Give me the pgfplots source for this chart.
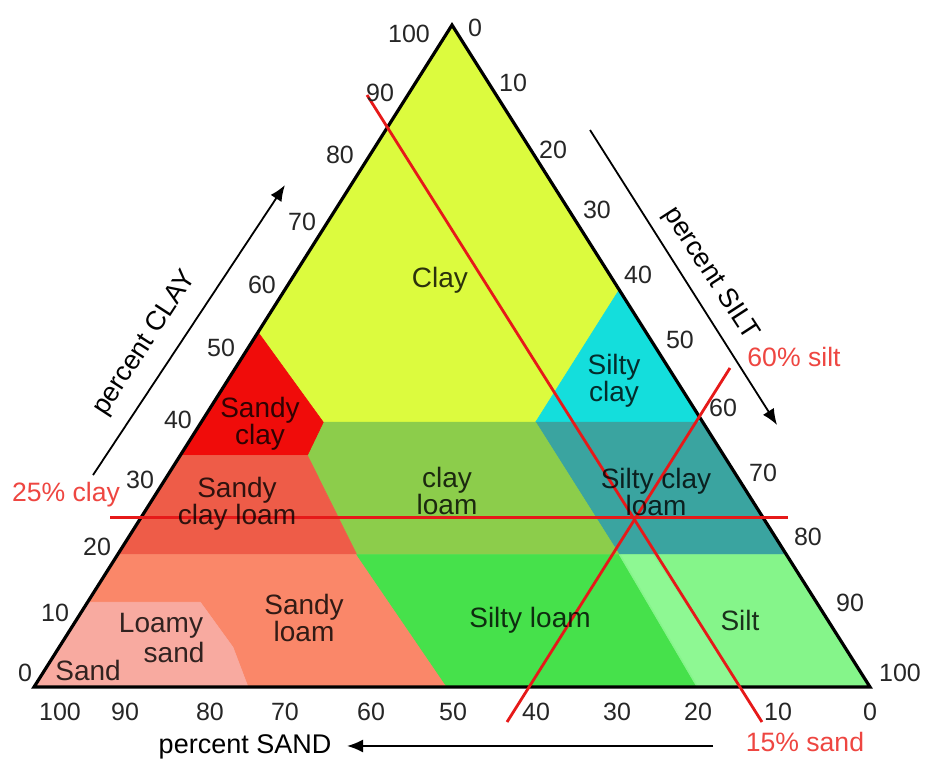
\documentclass[border=0pt]{standalone}
\usepackage{pgfplots}
\pgfplotsset{compat=1.18}
\usepackage{fontspec}
\setmainfont{Liberation Sans}
\usetikzlibrary{arrows.meta}
\definecolor{cClay}{RGB}{220,251,62}
\definecolor{cSiltyClay}{RGB}{20,222,220}
\definecolor{cSiltyClayLoam}{RGB}{58,164,160}
\definecolor{cClayLoam}{RGB}{140,205,75}
\definecolor{cSandyClay}{RGB}{240,12,10}
\definecolor{cSandyClayLoam}{RGB}{238,92,72}
\definecolor{cSandyLoam}{RGB}{250,135,105}
\definecolor{cLoamySand}{RGB}{248,170,160}
\definecolor{cSiltyLoam}{RGB}{70,225,75}
\definecolor{cSilt}{RGB}{133,245,138}
\definecolor{cSiltBand}{RGB}{142,248,147}
\definecolor{redline}{RGB}{230,25,25}
\definecolor{redlab}{RGB}{238,70,65}
\begin{document}
\begin{tikzpicture}[
  tick/.style={font=\fontsize{12.5}{15}\selectfont, text=black!85, inner sep=0pt},
  reg/.style={font=\fontsize{14}{13.5}\selectfont, align=center, text opacity=0.8, inner sep=0pt},
  ttl/.style={font=\fontsize{13.5}{16}\selectfont, inner sep=0pt},
  rlab/.style={font=\fontsize{13.3}{16}\selectfont, text=redlab, inner sep=0pt},
  reg fill/.style={fill=#1, draw=#1, line width=0.3pt}
]
\begin{axis}[
  width=462.5pt, height=381pt, scale only axis,
  xmin=-4.07, xmax=106.58, ymin=-11.33, ymax=103.78,
  hide axis, clip=false,
]
\path (rel axis cs:0,0) rectangle (rel axis cs:1,1);
% regions (x = 100 - sand - clay/2, y = clay)
\addplot[reg fill=cClay] coordinates {(50,100) (26.8,53.6) (34.6,40) (60,40) (70,60)} --cycle;
\addplot[reg fill=cSiltyClay] coordinates {(70,60) (60,40) (80,40)} --cycle;
\addplot[reg fill=cSiltyClayLoam] coordinates {(60,40) (80,40) (90,20) (70,20)} --cycle;
\addplot[reg fill=cClayLoam] coordinates {(34.6,40) (60,40) (70,20) (38.6,20) (32.7,35)} --cycle;
\addplot[reg fill=cSandyClay] coordinates {(26.8,53.6) (34.6,40) (32.7,35) (17.5,35)} --cycle;
\addplot[reg fill=cSandyClayLoam] coordinates {(17.5,35) (32.7,35) (38.6,20) (10,20)} --cycle;
\addplot[reg fill=cSandyLoam] coordinates {(10,20) (38.6,20) (49.4,0) (25.6,0) (23.8,6) (19.9,12.8) (6.4,12.8)} --cycle;
\addplot[reg fill=cLoamySand] coordinates {(0,0) (6.4,12.8) (19.9,12.8) (23.8,6) (25.6,0)} --cycle;
\addplot[reg fill=cSiltyLoam] coordinates {(38.6,20) (70,20) (79.3,0) (49.4,0)} --cycle;
\addplot[reg fill=cSilt] coordinates {(70,20) (90,20) (100,0) (79.3,0)} --cycle;
\addplot[fill=cSiltBand, draw=none] coordinates {(70.2,20) (74,20) (84.5,0) (79.5,0)} --cycle;
% outline
\addplot[black, line width=1.6pt] coordinates {(0,0) (100,0) (50,100)} --cycle;
% red reading lines
\addplot[redline, line width=1.4pt] coordinates {(9.09,25.6) (90.19,25.6)};
\addplot[redline, line width=1.4pt] coordinates {(39.83,89.43) (87.08,-5.29)};
\addplot[redline, line width=1.4pt] coordinates {(83.25,48.19) (56.58,-5.29)};
% axis arrows
\addplot[black, line width=0.9pt, -{Latex[length=8pt,width=6.5pt]}] coordinates {(7.06,32.02) (30.02,75.83)};
\addplot[black, line width=0.9pt, -{Latex[length=8pt,width=6.5pt]}] coordinates {(66.51,84.14) (88.88,39.58)};
\addplot[black, line width=0.9pt, -{Latex[length=8pt,width=6.5pt]}] coordinates {(81.22,-8.91) (37.44,-8.91)};
% clay ticks (left)
\node[tick] at (axis cs:44.86,98.64) {100};
\node[tick] at (axis cs:41.39,89.73) {90};
\node[tick] at (axis cs:36.60,80.36) {80};
\node[tick] at (axis cs:32.06,70.24) {70};
\node[tick] at (axis cs:27.27,60.73) {60};
\node[tick] at (axis cs:22.37,51.21) {50};
\node[tick] at (axis cs:17.22,40.33) {40};
\node[tick] at (axis cs:12.68,31.27) {30};
\node[tick] at (axis cs:7.54,21.15) {20};
\node[tick] at (axis cs:2.51,11.18) {10};
\node[tick] at (axis cs:-1.08,2.11) {0};
% silt ticks (right)
\node[tick] at (axis cs:52.75,99.55) {0};
\node[tick] at (axis cs:57.30,91.24) {10};
\node[tick] at (axis cs:62.08,81.12) {20};
\node[tick] at (axis cs:67.34,72.05) {30};
\node[tick] at (axis cs:72.25,62.24) {40};
\node[tick] at (axis cs:77.27,52.42) {50};
\node[tick] at (axis cs:82.42,42.15) {60};
\node[tick] at (axis cs:87.20,32.33) {70};
\node[tick] at (axis cs:92.58,22.66) {80};
\node[tick] at (axis cs:97.61,12.69) {90};
\node[tick] at (axis cs:103.59,2.11) {100};
% sand ticks (bottom)
\node[tick] at (axis cs:3.11,-3.78) {100};
\node[tick] at (axis cs:10.89,-3.78) {90};
\node[tick] at (axis cs:21.05,-3.78) {80};
\node[tick] at (axis cs:30.02,-3.78) {70};
\node[tick] at (axis cs:40.31,-3.78) {60};
\node[tick] at (axis cs:50.12,-3.78) {50};
\node[tick] at (axis cs:60.05,-3.78) {40};
\node[tick] at (axis cs:69.74,-3.78) {30};
\node[tick] at (axis cs:79.43,-3.78) {20};
\node[tick] at (axis cs:89.00,-3.78) {10};
\node[tick] at (axis cs:100,-3.78) {0};
% axis titles
\node[ttl, rotate=57] at (axis cs:13.3,51.9) {percent CLAY};
\node[ttl, rotate=-57] at (axis cs:80.9,62.4) {percent SILT};
\node[ttl] at (axis cs:25.24,-9.06) {percent SAND};
% red labels
\node[rlab] at (axis cs:3.83,29.0) {25\% clay};
\node[rlab] at (axis cs:90.91,49.85) {60\% silt};
\node[rlab] at (axis cs:92.22,-8.31) {15\% sand};
% region labels
\node[reg] at (axis cs:48.56,61.48) {Clay};
\node[reg] at (axis cs:69.38,46.22) {Silty\\clay};
\node[reg] at (axis cs:27.03,39.73) {Sandy\\clay};
\node[reg] at (axis cs:24.28,27.64) {Sandy\\clay loam};
\node[reg] at (axis cs:49.40,29.61) {clay\\loam};
\node[reg] at (axis cs:74.40,29.46) {Silty clay\\loam};
\node[reg] at (axis cs:32.30,10.42) {Sandy\\loam};
\node[reg] at (axis cs:15.19,9.21) {Loamy};
\node[reg] at (axis cs:16.75,5.14) {sand};
\node[reg] at (axis cs:6.46,2.42) {Sand};
\node[reg] at (axis cs:59.33,10.12) {Silty loam};
\node[reg] at (axis cs:84.45,10.12) {Silt};
\end{axis}
\end{tikzpicture}
\end{document}
